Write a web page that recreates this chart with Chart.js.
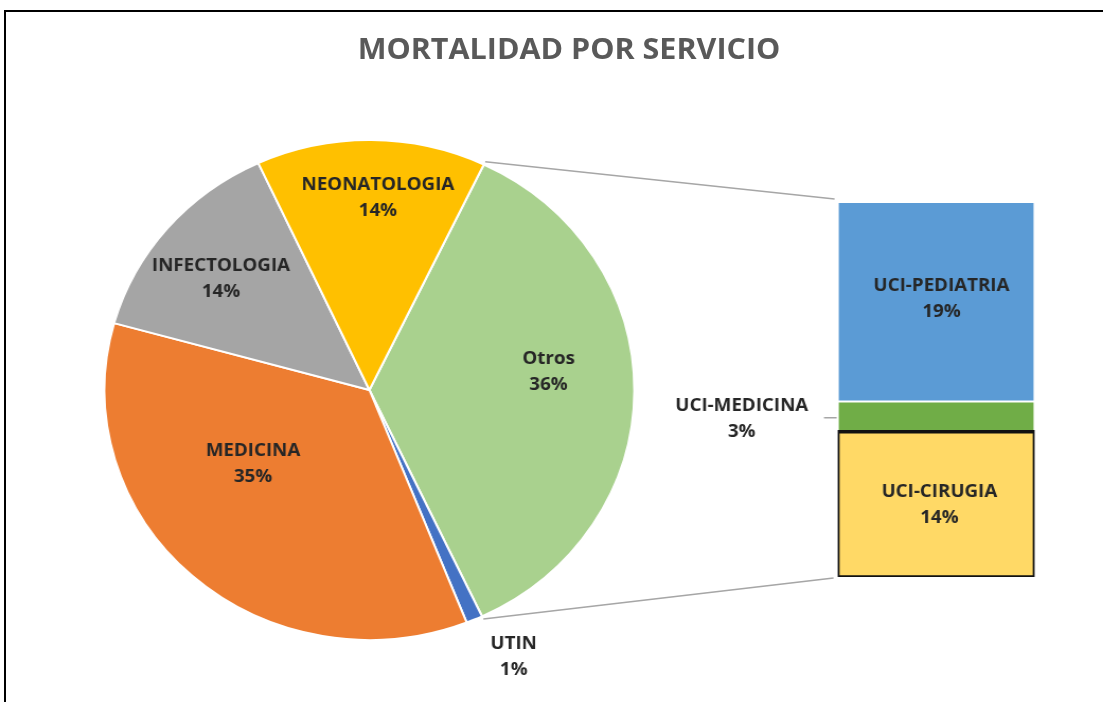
<!DOCTYPE html>
<html lang="es">
<head>
<meta charset="utf-8">
<script src="https://cdn.jsdelivr.net/npm/chart.js@4.4.1/dist/chart.umd.min.js"></script>
<style>
  html, body { margin: 0; padding: 0; background: #fff; }
  body { width: 1103px; height: 702px; overflow: hidden; position: relative; }
  .frame { position: absolute; left: 4px; top: 10px; width: 1120px; height: 720px; border-top: 2px solid #000; border-left: 2px solid #000; }
  .stage { position: absolute; left: 0; top: 0; width: 1041px; height: 702px; transform: scaleX(1.0596); transform-origin: 0 0; }
  .stage canvas { position: absolute; left: 0; top: 0; }
  .title { position: absolute; left: 237px; top: 32px; width: 600px; text-align: center; font: bold 28.8px 'Open Sans', sans-serif; line-height: 32px; color: #595959; }
</style>
</head>
<body>
<div class="frame"></div>
<div class="stage">
  <div class="title">MORTALIDAD POR SERVICIO</div>
  <canvas id="pieChart" width="1041" height="702"></canvas>
  <canvas id="barChart" width="1041" height="702"></canvas>
</div>
<script>
// datos (%)
const mainCategories = ['UTIN', 'MEDICINA', 'INFECTOLOGIA', 'NEONATOLOGIA'];
const mainValues = [1.0, 35.3, 13.8, 14.0];
const subCategories = ['UCI-CIRUGIA', 'UCI-MEDICINA', 'UCI-PEDIATRIA'];
const subValues = [13.9, 2.9, 19.1];
const otherLabel = 'Otros';

// estilos
const mainColors = ['#A9D18E', '#4472C4', '#ED7D31', '#A5A5A5', '#FFC000'];
const subColors = ['#FFD966', '#70AD47', '#5B9BD5'];
const labelFont = 'bold 17.7px "Open Sans", sans-serif';
const labelColor = '#262626';
// posicion de etiquetas: [grados desde arriba, fraccion del radio]
const pieLabelSpots = [[84, 0.68], [153, 1.2], [236, 0.53], [-51.6, 0.715], [2.4, 0.767]];

const subTotal = subValues.reduce((a, b) => a + b, 0);
const pieLabels = [otherLabel, ...mainCategories];
const pieValues = [subTotal, ...mainValues];
const grandTotal = pieValues.reduce((a, b) => a + b, 0);
const pct = v => Math.round(v / grandTotal * 100) + '%';

function twoLines(ctx, name, value, x, y) {
  ctx.fillText(name, x, y - 13);
  ctx.fillText(pct(value), x, y + 13);
}

const pieLabelPlugin = {
  id: 'pieLabelPlugin',
  afterDatasetsDraw(chart) {
    const { ctx } = chart;
    ctx.save();
    ctx.font = labelFont;
    ctx.fillStyle = labelColor;
    ctx.textAlign = 'center';
    ctx.textBaseline = 'middle';
    chart.getDatasetMeta(0).data.forEach((arc, i) => {
      const [deg, f] = pieLabelSpots[i];
      const a = (deg - 90) * Math.PI / 180;
      const x = arc.x + Math.cos(a) * arc.outerRadius * f;
      const y = arc.y + Math.sin(a) * arc.outerRadius * f;
      twoLines(ctx, pieLabels[i], pieValues[i], x, y);
    });
    ctx.restore();
  }
};

const pieChart = new Chart(document.getElementById('pieChart'), {
  type: 'pie',
  data: {
    labels: pieLabels,
    datasets: [{
      data: pieValues,
      backgroundColor: mainColors,
      borderColor: '#fff',
      borderWidth: 2
    }]
  },
  options: {
    responsive: false,
    animation: false,
    rotation: 25.6,
    radius: 250,
    layout: { padding: { left: 0, top: 78, right: 343.8, bottom: 0 } },
    plugins: { legend: { display: false }, tooltip: { enabled: false } },
    events: []
  },
  plugins: [pieLabelPlugin]
});

const barExtras = {
  id: 'barExtras',
  afterDatasetsDraw(chart) {
    const { ctx } = chart;
    const otros = pieChart.getDatasetMeta(0).data[0];
    const top = chart.getDatasetMeta(2).data[0];
    const bottom = chart.getDatasetMeta(0).data[0];
    const mid = chart.getDatasetMeta(1).data[0];
    const left = top.x - top.width / 2;
    const r = otros.outerRadius + 3;

    ctx.save();
    // lineas de conexion
    ctx.strokeStyle = '#A6A6A6';
    ctx.lineWidth = 1.5;
    ctx.beginPath();
    ctx.moveTo(otros.x + Math.cos(otros.startAngle) * r, otros.y + Math.sin(otros.startAngle) * r);
    ctx.lineTo(left - 3, top.y - 3);
    ctx.moveTo(otros.x + Math.cos(otros.endAngle) * r, otros.y + Math.sin(otros.endAngle) * r);
    ctx.lineTo(left - 4, bottom.base + 1);
    // guia de UCI-MEDICINA
    const midY = (mid.y + mid.base) / 2;
    ctx.moveTo(left - 13, midY + 1);
    ctx.lineTo(left - 1, midY + 1);
    ctx.stroke();

    ctx.font = labelFont;
    ctx.fillStyle = labelColor;
    ctx.textAlign = 'center';
    ctx.textBaseline = 'middle';
    twoLines(ctx, subCategories[2], subValues[2], top.x + 5, (top.y + top.base) / 2 - 3);
    twoLines(ctx, subCategories[0], subValues[0], bottom.x + 3, (bottom.y + bottom.base) / 2 + 1);
    twoLines(ctx, subCategories[1], subValues[1], 700, midY + 2);
    ctx.restore();
  }
};

new Chart(document.getElementById('barChart'), {
  type: 'bar',
  data: {
    labels: [otherLabel],
    datasets: subCategories.map((c, i) => ({
      label: c,
      data: [subValues[i]],
      backgroundColor: subColors[i],
      borderColor: i === 0 ? '#111' : '#fff',
      borderWidth: i === 0 ? 3.5 : 1,
      borderSkipped: false,
      inflateAmount: i === 0 ? 1.75 : 0,
      barPercentage: 1,
      categoryPercentage: 1
    }))
  },
  options: {
    responsive: false,
    animation: false,
    layout: { padding: { left: 790.6, top: 202, right: 64.6, bottom: 125 } },
    scales: {
      x: { stacked: true, display: false },
      y: { stacked: true, display: false, min: 0, max: subTotal }
    },
    plugins: { legend: { display: false }, tooltip: { enabled: false } },
    events: []
  },
  plugins: [barExtras]
});
</script>
</body>
</html>
